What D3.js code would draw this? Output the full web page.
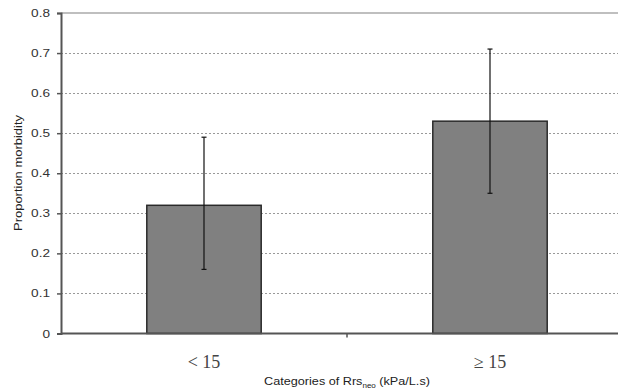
<!DOCTYPE html>
<html>
<head>
<meta charset="utf-8">
<script src="https://cdn.jsdelivr.net/npm/d3@7"></script>
<style>
  body { margin: 0; background: #fff; }
  svg { display: block; }
</style>
</head>
<body>
<svg id="chart"></svg>
<script>
// data
const categories = ['< 15', '\u2265 15'];
const proportions = [0.32, 0.53];
const errLow = [0.16, 0.35];
const errHigh = [0.49, 0.71];
const yTicks = [0, 0.1, 0.2, 0.3, 0.4, 0.5, 0.6, 0.7, 0.8];

const width = 618;
const height = 390;
const plotLeft = 61;
const plotTop = 13;
const plotBottom = 333.5;
const plotRight = 633; // plot runs past the crop on the right

const sansFont = 'Liberation Sans, Arial, sans-serif';

const svg = d3.select('#chart').attr('width', width).attr('height', height);

const x = d3.scaleBand()
  .domain(categories)
  .range([plotLeft, plotRight])
  .paddingInner(0.6)
  .paddingOuter(0.3);

const y = d3.scaleLinear().domain([0, 0.8]).range([plotBottom, plotTop]);

// gridlines
svg.append('g')
  .selectAll('line')
  .data(yTicks.filter(d => d > 0 && d < 0.8))
  .enter()
  .append('line')
  .attr('x1', plotLeft)
  .attr('x2', width)
  .attr('y1', d => Math.round(y(d)) + 0.5)
  .attr('y2', d => Math.round(y(d)) + 0.5)
  .attr('stroke', '#999')
  .attr('stroke-width', 1)
  .attr('stroke-dasharray', '2,2');

// top border
svg.append('line')
  .attr('x1', plotLeft).attr('x2', width)
  .attr('y1', y(0.8)).attr('y2', y(0.8))
  .attr('stroke', '#aaa')
  .attr('stroke-width', 1.5);

// bars
svg.append('g')
  .selectAll('rect')
  .data(categories)
  .enter()
  .append('rect')
  .attr('x', d => x(d))
  .attr('width', x.bandwidth())
  .attr('y', (d, i) => y(proportions[i]))
  .attr('height', (d, i) => y(0) - y(proportions[i]))
  .attr('fill', '#808080')
  .attr('stroke', '#2a2a2a')
  .attr('stroke-width', 1.5);

// error bars
const eb = svg.append('g')
  .selectAll('g')
  .data(categories)
  .enter()
  .append('g');

eb.append('line')
  .attr('x1', d => x(d) + x.bandwidth() / 2)
  .attr('x2', d => x(d) + x.bandwidth() / 2)
  .attr('y1', (d, i) => y(errLow[i]))
  .attr('y2', (d, i) => y(errHigh[i]))
  .attr('stroke', '#111')
  .attr('stroke-width', 1.2);

[errLow, errHigh].forEach(arr => {
  eb.append('line')
    .attr('x1', d => x(d) + x.bandwidth() / 2 - 2.5)
    .attr('x2', d => x(d) + x.bandwidth() / 2 + 2.5)
    .attr('y1', (d, i) => y(arr[i]))
    .attr('y2', (d, i) => y(arr[i]))
    .attr('stroke', '#111')
    .attr('stroke-width', 1.2);
});

// y axis
const yAxis = d3.axisLeft(y)
  .tickValues(yTicks)
  .tickFormat(d => d === 0 ? '0' : d3.format('.1f')(d))
  .tickSize(4);

const gy = svg.append('g')
  .attr('transform', 'translate(' + plotLeft + ',0)')
  .call(yAxis);
gy.select('.domain').attr('stroke', '#555').attr('stroke-width', 2);
gy.selectAll('.tick line').attr('stroke', '#555').attr('stroke-width', 1.5);
gy.selectAll('.tick text')
  .attr('fill', '#333')
  .attr('x', -11 / 1.24)
  .attr('transform', 'scale(1.24,1)')
  .style('font-family', sansFont)
  .style('font-size', '11px');

// x axis baseline + middle tick
svg.append('line')
  .attr('x1', plotLeft).attr('x2', width)
  .attr('y1', y(0)).attr('y2', y(0))
  .attr('stroke', '#555')
  .attr('stroke-width', 2);

const midX = (x(categories[0]) + x.bandwidth() + x(categories[1])) / 2;
svg.append('line')
  .attr('x1', midX).attr('x2', midX)
  .attr('y1', y(0)).attr('y2', y(0) + 4)
  .attr('stroke', '#555')
  .attr('stroke-width', 1.5);

// category labels
svg.append('g')
  .selectAll('text')
  .data(categories)
  .enter()
  .append('text')
  .attr('x', d => x(d) + x.bandwidth() / 2)
  .attr('y', 367.5)
  .attr('text-anchor', 'middle')
  .attr('fill', '#444')
  .style('font-family', 'Liberation Serif, Times New Roman, serif')
  .style('font-size', '18px')
  .text(d => d);

// axis titles
const xt = svg.append('text')
  .attr('transform', 'translate(' + midX + ',385) scale(1.15,1)')
  .attr('text-anchor', 'middle')
  .attr('fill', '#222')
  .style('font-family', sansFont)
  .style('font-size', '11px');
xt.append('tspan').text('Categories of Rrs');
xt.append('tspan').attr('dy', 2.5).style('font-size', '7px').text('neo');
xt.append('tspan').attr('dy', -2.5).text(' (kPa/L.s)');

svg.append('text')
  .attr('transform', 'translate(22,173) rotate(-90) scale(1.18,1)')
  .attr('text-anchor', 'middle')
  .attr('fill', '#222')
  .style('font-family', sansFont)
  .style('font-size', '11px')
  .text('Proportion morbidity');
</script>
</body>
</html>
